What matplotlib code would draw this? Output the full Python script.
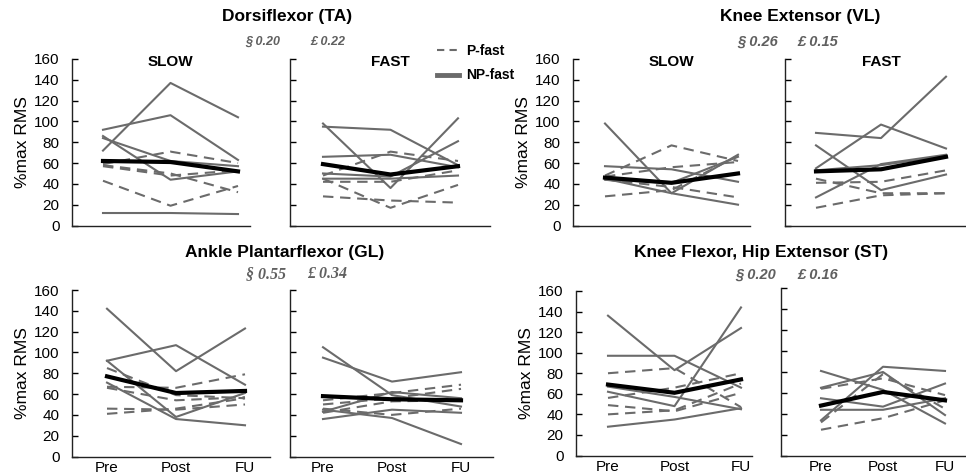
import matplotlib.pyplot as plt
from matplotlib.lines import Line2D

plt.rcParams['font.family'] = ['Liberation Sans', 'DejaVu Sans']

stages = ['Pre', 'Post', 'FU']
yticks = [0, 20, 40, 60, 80, 100, 120, 140, 160]

# Dorsiflexor (TA)
ta_slow_solid = [[72, 137, 104], [92, 106, 63], [86, 44, 52], [84, 62, 57], [12, 12, 11]]
ta_slow_dashed = [[59, 71, 60], [57, 48, 53], [58, 50, 32], [43, 19, 38]]
ta_slow_mean = [62, 61, 52]
ta_fast_solid = [[98, 36, 103], [95, 92, 58], [66, 68, 56], [50, 47, 81], [45, 45, 48]]
ta_fast_dashed = [[48, 71, 62], [42, 42, 53], [45, 17, 39], [28, 24, 22]]
ta_fast_mean = [59, 49, 57]

# Knee Extensor (VL)
vl_slow_solid = [[98, 31, 68], [57, 54, 42], [45, 31, 20], [44, 41, 66]]
vl_slow_dashed = [[48, 77, 62], [28, 34, 67], [44, 37, 27], [47, 56, 61]]
vl_slow_mean = [46, 41, 50]
vl_fast_solid = [[89, 84, 143], [55, 97, 74], [77, 34, 49], [27, 59, 68], [53, 58, 67]]
vl_fast_dashed = [[41, 42, 53], [17, 29, 31], [45, 31, 31]]
vl_fast_mean = [52, 54, 66]

# Ankle Plantarflexor (GL)
gl_slow_solid = [[142, 82, 123], [92, 107, 69], [92, 38, 61], [71, 36, 30]]
gl_slow_dashed = [[85, 59, 56], [67, 66, 79], [46, 45, 50], [41, 46, 56], [66, 54, 57]]
gl_slow_mean = [77, 61, 63]
gl_fast_solid = [[105, 59, 48], [95, 72, 81], [45, 37, 12], [36, 45, 42], [43, 62, 56]]
gl_fast_dashed = [[54, 61, 69], [50, 56, 65], [46, 40, 46], [42, 53, 54]]
gl_fast_mean = [58, 55, 54]

# Knee Flexor, Hip Extensor (ST)
st_slow_solid = [[136, 83, 124], [97, 97, 66], [62, 48, 144], [28, 35, 46], [67, 57, 45]]
st_slow_dashed = [[80, 85, 47], [56, 66, 80], [49, 43, 61], [40, 44, 70]]
st_slow_mean = [69, 61, 74]
st_fast_solid = [[81, 63, 31], [65, 80, 39], [34, 85, 81], [55, 47, 69], [44, 44, 55]]
st_fast_dashed = [[64, 74, 58], [32, 78, 45], [25, 36, 53]]
st_fast_mean = [48, 61, 53]

W, H = 966, 476
GRAY = '#6b6b6b'
NOTE = '#606060'

fig = plt.figure(figsize=(W / 100, H / 100), dpi=100)


def add_panel(box, solid, dashed, mean, label=None, ylabels=True, xlabels=False):
    # box: spine left, spine right, top (y=160), bottom (y=0), x of Pre, x of FU (pixels)
    left, right, top, bottom, pre, fu = box
    ax = fig.add_axes([left / W, 1 - bottom / H, (right - left) / W, (bottom - top) / H])
    x = list(range(len(stages)))
    for vals in dashed:
        ax.plot(x, vals, color=GRAY, lw=1.5, dashes=(5, 3.2))
    for vals in solid:
        ax.plot(x, vals, color=GRAY, lw=1.5)
    ax.plot(x, mean, color='black', lw=3)

    dx = (fu - pre) / 2
    ax.set_xlim((left - pre) / dx, (right - pre) / dx)
    ax.set_ylim(0, 160)
    ax.set_yticks(yticks)
    ax.set_xticks(x)
    ax.set_xticklabels(stages if xlabels else [])
    if not ylabels:
        ax.set_yticklabels([])
    ax.tick_params(axis='y', direction='in', length=4, width=1, pad=9, labelsize=11)
    ax.tick_params(axis='x', length=0, pad=3, labelsize=11)
    for side in ['top', 'right']:
        ax.spines[side].set_visible(False)
    for side in ['left', 'bottom']:
        ax.spines[side].set_color('#222222')
        ax.spines[side].set_linewidth(1)
    ax.patch.set_visible(False)
    if label:
        ax.text(1, 157, label, ha='center', va='center', fontsize=11, fontweight='bold')
    return ax


# top row
a1 = add_panel((72, 250, 59, 225.5, 103, 238), ta_slow_solid, ta_slow_dashed, ta_slow_mean, 'SLOW')
add_panel((290, 490, 59, 225.5, 323, 458), ta_fast_solid, ta_fast_dashed, ta_fast_mean, 'FAST', ylabels=False)
a3 = add_panel((573, 750, 59, 225.5, 605, 738), vl_slow_solid, vl_slow_dashed, vl_slow_mean, 'SLOW')
add_panel((785, 966, 59, 225.5, 816, 946), vl_fast_solid, vl_fast_dashed, vl_fast_mean, 'FAST', ylabels=False)

# bottom row
a5 = add_panel((72, 270, 290, 456.5, 107, 245), gl_slow_solid, gl_slow_dashed, gl_slow_mean, xlabels=True)
add_panel((290, 493, 290, 456.5, 323, 461), gl_fast_solid, gl_fast_dashed, gl_fast_mean, ylabels=False, xlabels=True)
a7 = add_panel((576, 752, 291, 455.5, 608, 741), st_slow_solid, st_slow_dashed, st_slow_mean, xlabels=True)
add_panel((781, 966, 288, 456, 821, 945), st_fast_solid, st_fast_dashed, st_fast_mean, ylabels=False, xlabels=True)

for ax in [a1, a3, a5, a7]:
    ax.set_ylabel('%max RMS', fontsize=12.5, labelpad=3)

# group titles
titles = [('Dorsiflexor (TA)', 287, 17), ('Knee Extensor (VL)', 800, 17),
          ('Ankle Plantarflexor (GL)', 285, 253), ('Knee Flexor, Hip Extensor (ST)', 761, 252)]
for text, px, py in titles:
    fig.text(px / W, 1 - py / H, text, ha='center', va='center', fontsize=12.5, fontweight='bold')

# p-value notes
notes = [('\u00a7 0.20', 245, 42, 'Liberation Sans', 9), ('\u00a3 0.22', 310, 42, 'Liberation Sans', 9),
         ('\u00a7 0.26', 737, 42, 'Liberation Sans', 10.5), ('\u00a3 0.15', 797, 42, 'Liberation Sans', 10.5),
         ('\u00a7 0.55', 246, 274, 'Liberation Serif', 11.5), ('\u00a3 0.34', 307, 274, 'Liberation Serif', 11.5),
         ('\u00a7 0.20', 735, 275, 'Liberation Sans', 10.5), ('\u00a3 0.16', 797, 275, 'Liberation Sans', 10.5)]
for text, px, py, fam, size in notes:
    fig.text(px / W, 1 - py / H, text, ha='left', va='center', fontsize=size,
             fontweight='bold', style='italic', color=NOTE, family=fam)

handles = [Line2D([], [], color=GRAY, lw=1.5, dashes=(3.5, 2.5)),
           Line2D([], [], color=GRAY, lw=3.5)]
fig.legend(handles, ['P-fast', 'NP-fast'], loc='upper left',
           bbox_to_anchor=(437 / W, 1 - 44 / H), frameon=False,
           prop={'weight': 'bold', 'size': 10}, handlelength=1.6,
           handletextpad=0.5, labelspacing=0.75, borderpad=0, borderaxespad=0)

fig.savefig('out.png', dpi=100)
